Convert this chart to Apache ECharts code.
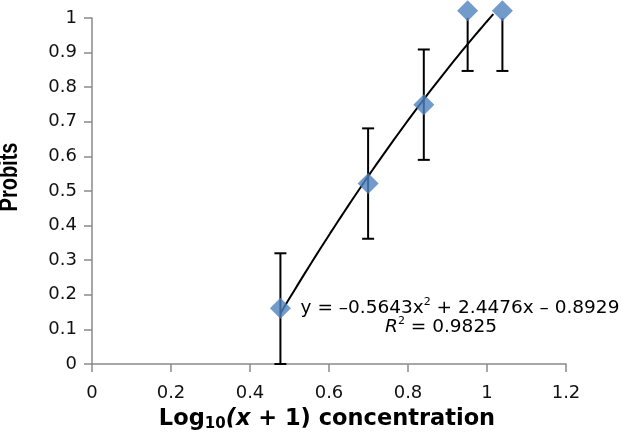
<!DOCTYPE html>
<html><head><meta charset="utf-8">
<script src="https://cdn.jsdelivr.net/npm/echarts@6/dist/echarts.min.js"></script>
<style>html,body{margin:0;padding:0;background:#fff}#c{width:628px;height:442px}</style>
</head><body><div id="c"></div>
<script>
// ---- data ----
const xValues  = [0.477, 0.699, 0.840, 0.951, 1.039];
const yValues  = [0.161, 0.522, 0.749, 1.021, 1.021];
const errLow   = [0.000, 0.362, 0.590, 0.847, 0.847];
const errHigh  = [0.320, 0.681, 0.909, 1.180, 1.180];
const trendCoef = [-0.5643, 2.4476, -0.8929];   // y = a x^2 + b x + c (displayed fit)
const trendRange = [0.477, 1.016];
const xTicks = [0, 0.2, 0.4, 0.6, 0.8, 1, 1.2];
const yTicks = [0, 0.1, 0.2, 0.3, 0.4, 0.5, 0.6, 0.7, 0.8, 0.9, 1];
const equationText = ['y = \u20130.5643x', '2', ' + 2.4476x \u2013 0.8929'];
const r2Text = ['R', '2', ' = 0.9825'];

// trendline from the displayed polynomial
const trend = [];
for (let k = 0; k <= 60; k++) {
  const x = trendRange[0] + (trendRange[1] - trendRange[0]) * k / 60;
  trend.push([x, trendCoef[0] * x * x + trendCoef[1] * x + trendCoef[2]]);
}

const chart = echarts.init(document.getElementById('c'));
const axisColor = '#8a8a8a';
const tickFont = {fontFamily: 'DejaVu Sans', fontSize: 18, color: '#111'};
const yMax = yTicks[yTicks.length - 1];

chart.setOption({
  animation: false,
  backgroundColor: '#fff',
  grid: {left: 92, right: 62, top: 18, bottom: 78},
  xAxis: {
    type: 'value', min: xTicks[0], max: xTicks[xTicks.length - 1], interval: xTicks[1] - xTicks[0],
    axisLine: {show: true, onZero: false, lineStyle: {color: axisColor, width: 1.5}},
    axisTick: {show: true, length: 8, lineStyle: {color: axisColor, width: 1.5}},
    splitLine: {show: false},
    axisLabel: Object.assign({margin: 20}, tickFont)
  },
  yAxis: {
    type: 'value', min: yTicks[0], max: yMax, interval: yTicks[1] - yTicks[0],
    axisLine: {show: true, onZero: false, lineStyle: {color: axisColor, width: 1.5}},
    axisTick: {show: true, length: 8, lineStyle: {color: axisColor, width: 1.5}},
    splitLine: {show: false},
    axisLabel: Object.assign({margin: 15}, tickFont)
  },
  series: [
    {
      type: 'custom', z: 2,
      data: xValues.map((x, i) => [x, errLow[i], errHigh[i]]),
      encode: {x: 0, y: [1, 2]},
      renderItem: function (params, api) {
        const x = api.value(0);
        const lo = api.value(1), hi = api.value(2);
        const hiC = Math.min(hi, yMax);
        const p1 = api.coord([x, lo]);
        const p2 = api.coord([x, hiC]);
        const hw = 6;
        const st = {stroke: '#000', lineWidth: 2};
        const ch = [
          {type: 'line', shape: {x1: p1[0], y1: p1[1], x2: p2[0], y2: p2[1]}, style: st},
          {type: 'line', shape: {x1: p1[0] - hw, y1: p1[1], x2: p1[0] + hw, y2: p1[1]}, style: st}
        ];
        if (hi <= yMax) ch.push({type: 'line', shape: {x1: p2[0] - hw, y1: p2[1], x2: p2[0] + hw, y2: p2[1]}, style: st});
        return {type: 'group', children: ch};
      }
    },
    {
      type: 'line', z: 3, data: trend, symbol: 'none', clip: false,
      lineStyle: {color: '#000', width: 2}
    },
    {
      type: 'scatter', z: 4, clip: false,
      data: xValues.map((x, i) => [x, yValues[i]]),
      symbol: 'diamond', symbolSize: 21,
      itemStyle: {color: '#4F81BD'}
    }
  ],
  graphic: [
    {
      type: 'text', x: 10, y: 177, rotation: Math.PI / 2, scaleY: 1.3,
      style: {text: 'Probits', font: 'bold 20px "Liberation Sans"', fill: '#000', textAlign: 'center', textVerticalAlign: 'middle'}
    },
    {
      type: 'text', x: 327, y: 419,
      style: {
        text: '{b|Log}{s|10}{bi|(x}{b| + 1) concentration}',
        textAlign: 'center', textVerticalAlign: 'middle', fill: '#000',
        rich: {
          b: {fontFamily: 'DejaVu Sans', fontWeight: 'bold', fontSize: 22.5, lineHeight: 26, fill: '#000'},
          bi: {fontFamily: 'DejaVu Sans', fontWeight: 'bold', fontStyle: 'italic', fontSize: 22.5, lineHeight: 26, fill: '#000'},
          s: {fontFamily: 'DejaVu Sans', fontWeight: 'bold', fontSize: 15, lineHeight: 16, verticalAlign: 'bottom', fill: '#000'}
        }
      }
    },
    {
      type: 'text', x: 460, y: 308,
      style: {
        text: '{n|' + equationText[0] + '}{p|' + equationText[1] + '}{n|' + equationText[2] + '}',
        textAlign: 'center', textVerticalAlign: 'middle', fill: '#000',
        rich: {
          n: {fontFamily: 'DejaVu Sans', fontSize: 18.5, lineHeight: 22, fill: '#000'},
          p: {fontFamily: 'DejaVu Sans', fontSize: 11, lineHeight: 12, verticalAlign: 'top', fill: '#000'}
        }
      }
    },
    {
      type: 'text', x: 441, y: 327,
      style: {
        text: '{i|' + r2Text[0] + '}{p|' + r2Text[1] + '}{n|' + r2Text[2] + '}',
        textAlign: 'center', textVerticalAlign: 'middle', fill: '#000',
        rich: {
          i: {fontFamily: 'DejaVu Sans', fontStyle: 'italic', fontSize: 18.5, lineHeight: 22, fill: '#000'},
          n: {fontFamily: 'DejaVu Sans', fontSize: 18.5, lineHeight: 22, fill: '#000'},
          p: {fontFamily: 'DejaVu Sans', fontSize: 11, lineHeight: 12, verticalAlign: 'top', fill: '#000'}
        }
      }
    }
  ]
});
</script>
</body></html>
